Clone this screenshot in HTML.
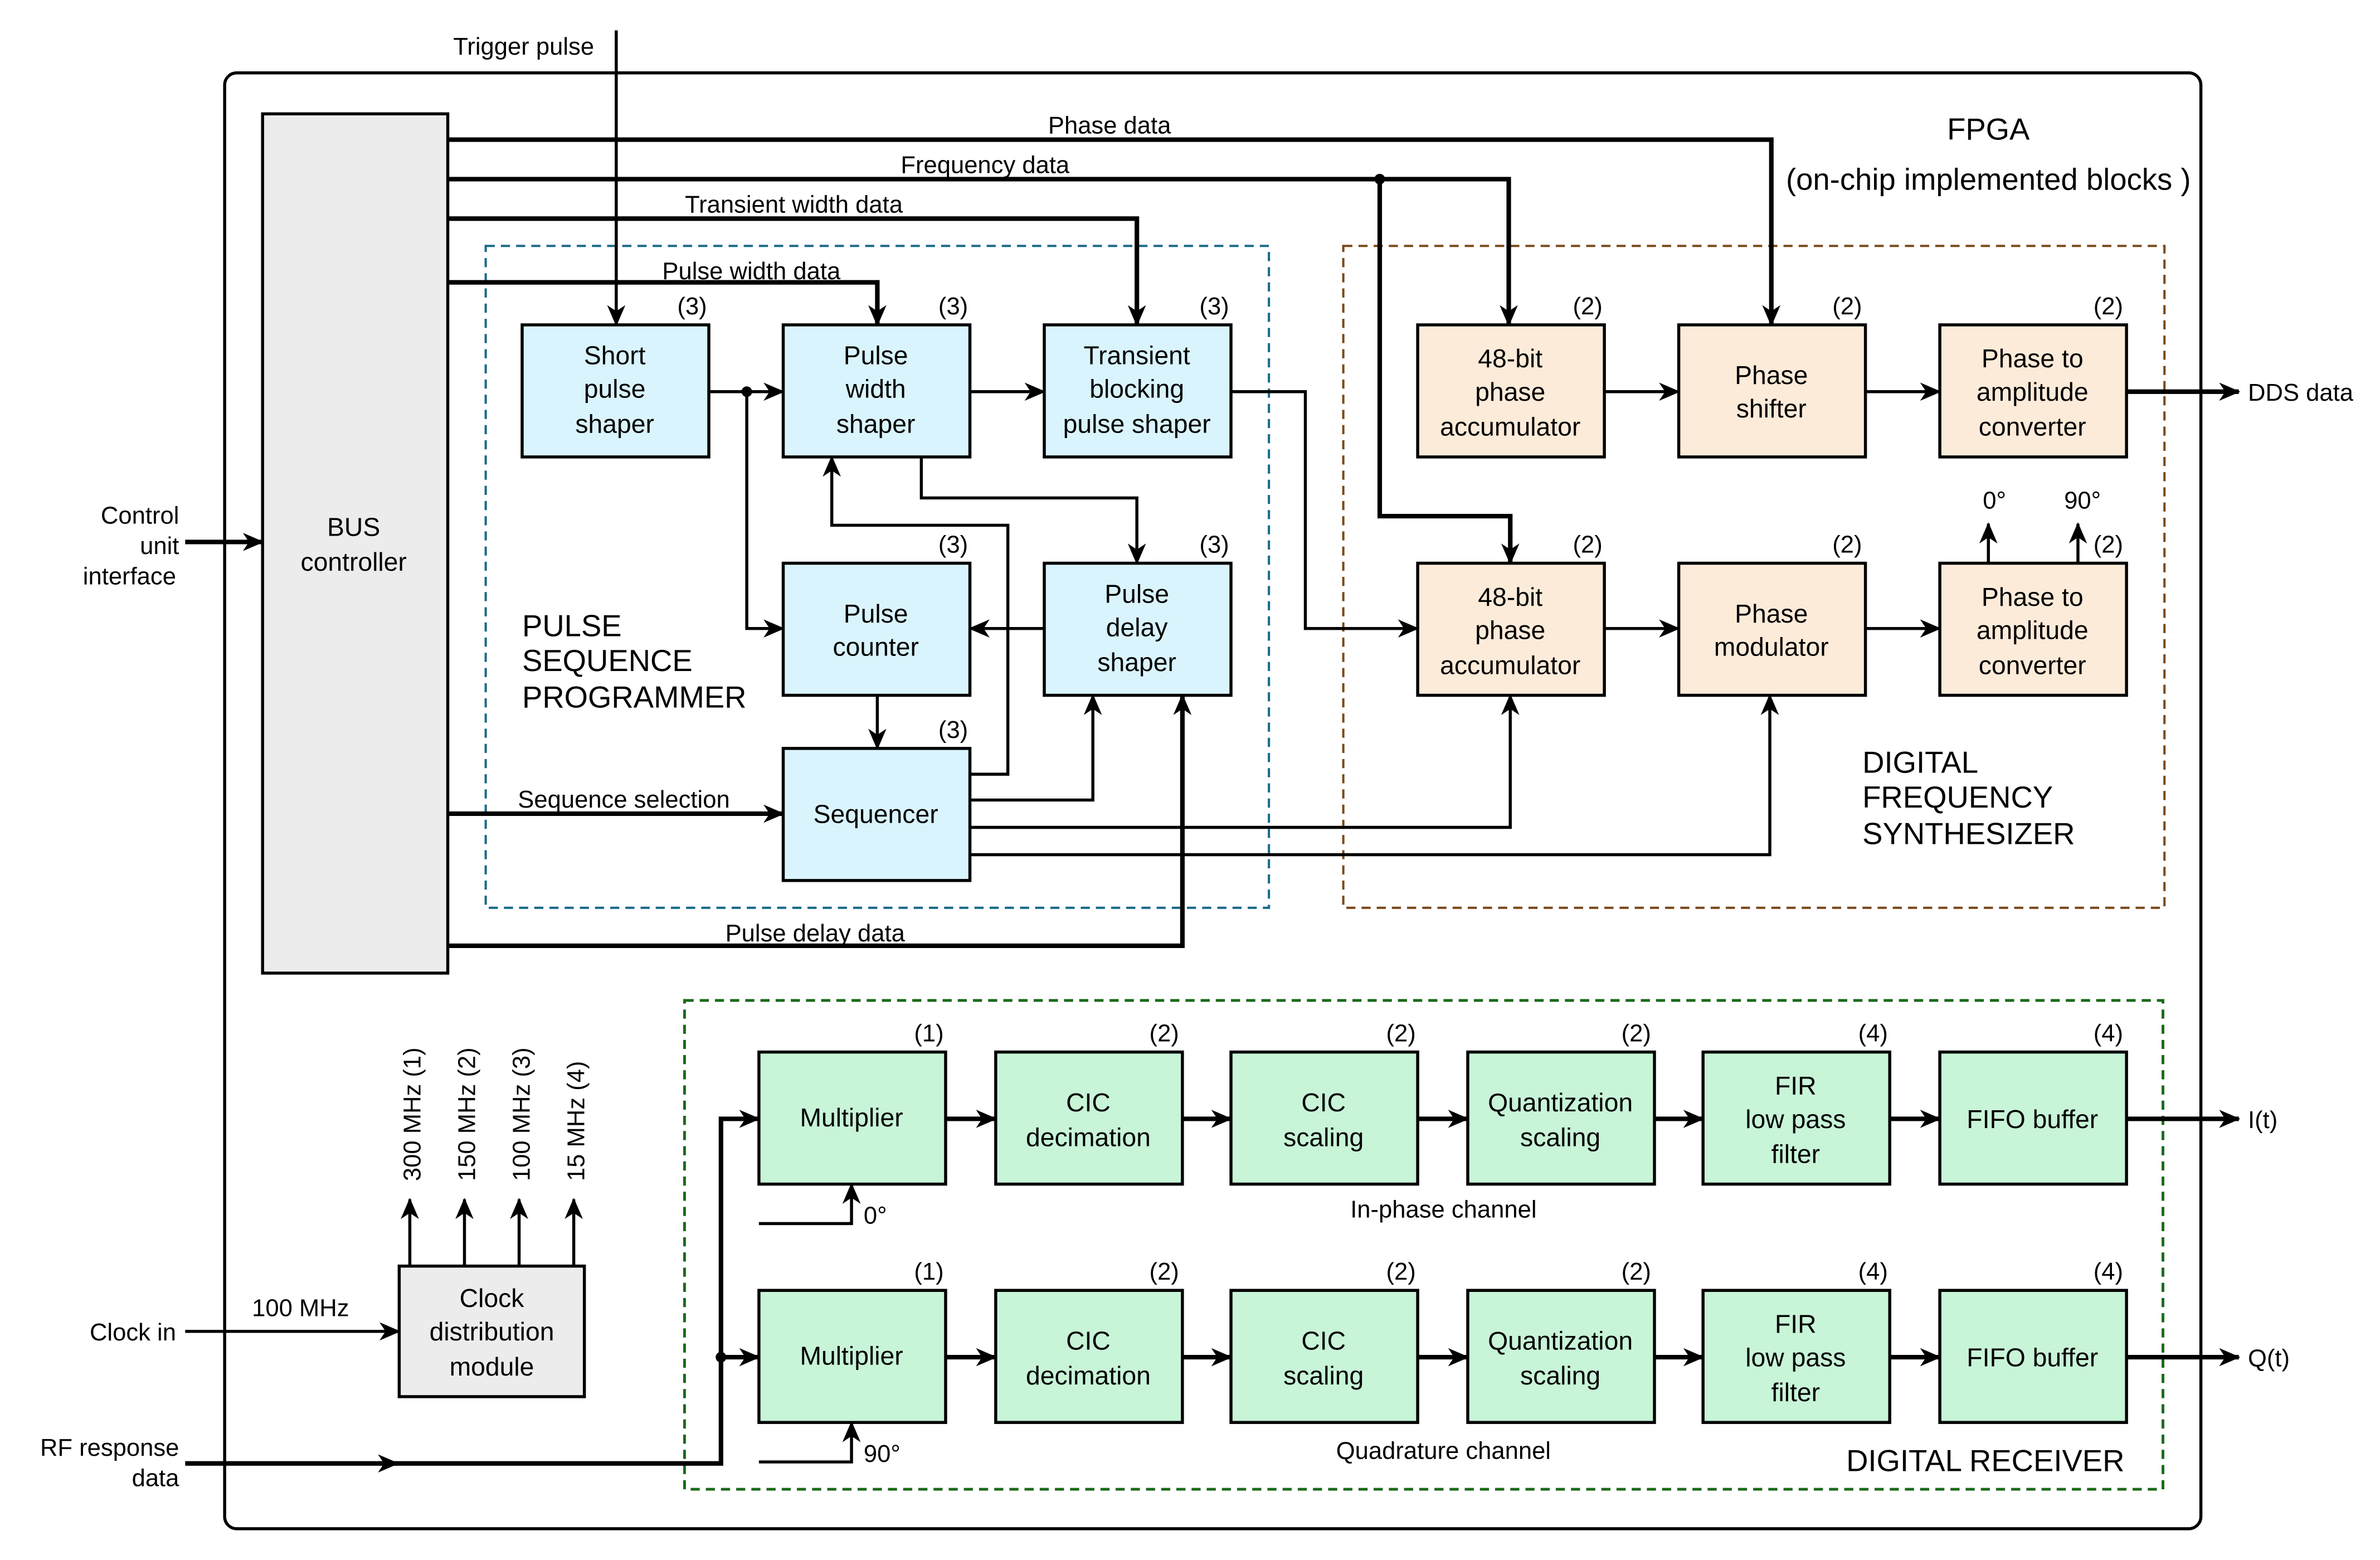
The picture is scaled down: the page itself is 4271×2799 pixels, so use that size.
<!DOCTYPE html>
<html><head><meta charset="utf-8"><style>
html,body{margin:0;padding:0;background:#fff}
svg{display:block}
text{font-family:"Liberation Sans",sans-serif;fill:#000}
</style></head><body>
<svg width="4271" height="2799" viewBox="0 0 1568 1027.6" preserveAspectRatio="none" xmlns="http://www.w3.org/2000/svg">
<defs>
<marker id="a" markerUnits="userSpaceOnUse" markerWidth="14" markerHeight="12" refX="13" refY="6" orient="auto"><path d="M0,0 L14,6 L0,12 L4,6 Z" fill="#000"/></marker>
</defs>
<rect width="1568" height="1028" fill="#fff"/>
<rect x="148" y="48" width="1302" height="959" rx="8" fill="none" stroke="#000" stroke-width="2"/>
<rect x="320" y="162" width="516" height="436" fill="none" stroke="#1a6a8a" stroke-width="1.5" stroke-dasharray="6,4"/>
<rect x="885" y="162" width="541" height="436" fill="none" stroke="#7a4a1a" stroke-width="1.5" stroke-dasharray="6,4"/>
<rect x="451" y="659" width="974" height="322" fill="none" stroke="#1a6a1a" stroke-width="1.8" stroke-dasharray="6,4"/>

<g stroke="#000" stroke-width="2">
<rect x="173" y="75" width="122" height="566" fill="#ececec"/>
<rect x="263" y="834" width="122" height="86" fill="#ececec"/>
<g fill="#d9f4fd">
<rect x="344" y="214" width="123" height="87"/><rect x="516" y="214" width="123" height="87"/><rect x="688" y="214" width="123" height="87"/>
<rect x="516" y="371" width="123" height="87"/><rect x="688" y="371" width="123" height="87"/><rect x="516" y="493" width="123" height="87"/>
</g>
<g fill="#fdebd9">
<rect x="934" y="214" width="123" height="87"/><rect x="1106" y="214" width="123" height="87"/><rect x="1278" y="214" width="123" height="87"/>
<rect x="934" y="371" width="123" height="87"/><rect x="1106" y="371" width="123" height="87"/><rect x="1278" y="371" width="123" height="87"/>
</g>
<g fill="#c8f4d8">
<rect x="500" y="693" width="123" height="87"/><rect x="656" y="693" width="123" height="87"/><rect x="811" y="693" width="123" height="87"/><rect x="967" y="693" width="123" height="87"/><rect x="1122" y="693" width="123" height="87"/><rect x="1278" y="693" width="123" height="87"/>
<rect x="500" y="850" width="123" height="87"/><rect x="656" y="850" width="123" height="87"/><rect x="811" y="850" width="123" height="87"/><rect x="967" y="850" width="123" height="87"/><rect x="1122" y="850" width="123" height="87"/><rect x="1278" y="850" width="123" height="87"/>
</g>
</g>

<g fill="none" stroke="#000" stroke-width="3" marker-end="url(#a)">
<path d="M295,92 H1167 V214"/>
<path d="M295,118 H994 V214"/>
<path d="M909,118 V340 H995 V371"/>
<path d="M295,144 H749 V214"/>
<path d="M295,186 H578 V214"/>
<path d="M295,623 H779 V458"/>
<path d="M295,536 H516"/>
<path d="M122,357 H173"/>
<path d="M1401,258 H1475"/>
<path d="M122,964 H262"/>
<path d="M475,894 H500"/>
<path d="M623,737 H656"/><path d="M779,737 H811"/><path d="M934,737 H967"/><path d="M1090,737 H1122"/><path d="M1245,737 H1278"/><path d="M1401,737 H1475"/>
<path d="M623,894 H656"/><path d="M779,894 H811"/><path d="M934,894 H967"/><path d="M1090,894 H1122"/><path d="M1245,894 H1278"/><path d="M1401,894 H1475"/>
</g>
<path d="M250,964 H475 V737 H500" fill="none" stroke="#000" stroke-width="3" marker-end="url(#a)"/>
<g fill="none" stroke="#000" stroke-width="2" marker-end="url(#a)">
<path d="M406,20 V214"/>
<path d="M467,258 H516"/>
<path d="M492,258 V414 H516"/>
<path d="M639,258 H688"/>
<path d="M607,301 V328 H749 V371"/>
<path d="M639,510 H664 V346 H548 V301"/>
<path d="M688,414 H639"/>
<path d="M578,458 V493"/>
<path d="M639,527 H720 V458"/>
<path d="M639,545 H995 V458"/>
<path d="M639,563 H1166 V458"/>
<path d="M811,258 H860 V414 H934"/>
<path d="M1057,258 H1106"/><path d="M1229,258 H1278"/>
<path d="M1057,414 H1106"/><path d="M1229,414 H1278"/>
<path d="M1310,371 V345"/><path d="M1369,371 V345"/>
<path d="M122,877 H263"/>
<path d="M270,834 V790"/><path d="M306,834 V790"/><path d="M342,834 V790"/><path d="M378,834 V790"/>
<path d="M500,806 H561 V780"/>
<path d="M500,963 H561 V937"/>
</g>
<circle cx="492" cy="258" r="3.5"/><circle cx="909" cy="118" r="3.5"/><circle cx="475" cy="894" r="3.5"/>

<g font-size="17" text-anchor="middle">
<text x="233" y="353">BUS</text><text x="233" y="376">controller</text>
<text x="405" y="240">Short</text><text x="405" y="262">pulse</text><text x="405" y="285">shaper</text>
<text x="577" y="240">Pulse</text><text x="577" y="262">width</text><text x="577" y="285">shaper</text>
<text x="749" y="240">Transient</text><text x="749" y="262">blocking</text><text x="749" y="285">pulse shaper</text>
<text x="577" y="410">Pulse</text><text x="577" y="432">counter</text>
<text x="749" y="397">Pulse</text><text x="749" y="419">delay</text><text x="749" y="442">shaper</text>
<text x="577" y="542">Sequencer</text>
<text x="995" y="242">48-bit</text><text x="995" y="264">phase</text><text x="995" y="287">accumulator</text>
<text x="1167" y="253">Phase</text><text x="1167" y="275">shifter</text>
<text x="1339" y="242">Phase to</text><text x="1339" y="264">amplitude</text><text x="1339" y="287">converter</text>
<text x="995" y="399">48-bit</text><text x="995" y="421">phase</text><text x="995" y="444">accumulator</text>
<text x="1167" y="410">Phase</text><text x="1167" y="432">modulator</text>
<text x="1339" y="399">Phase to</text><text x="1339" y="421">amplitude</text><text x="1339" y="444">converter</text>
<text x="324" y="861">Clock</text><text x="324" y="883">distribution</text><text x="324" y="906">module</text>
<text x="561" y="742">Multiplier</text><text x="717" y="732">CIC</text><text x="717" y="755">decimation</text><text x="872" y="732">CIC</text><text x="872" y="755">scaling</text><text x="1028" y="732">Quantization</text><text x="1028" y="755">scaling</text><text x="1183" y="721">FIR</text><text x="1183" y="743">low pass</text><text x="1183" y="766">filter</text><text x="1339" y="743">FIFO buffer</text>
<text x="561" y="899">Multiplier</text><text x="717" y="889">CIC</text><text x="717" y="912">decimation</text><text x="872" y="889">CIC</text><text x="872" y="912">scaling</text><text x="1028" y="889">Quantization</text><text x="1028" y="912">scaling</text><text x="1183" y="878">FIR</text><text x="1183" y="900">low pass</text><text x="1183" y="923">filter</text><text x="1339" y="900">FIFO buffer</text>
</g>
<g font-size="16" text-anchor="middle">
<text x="456" y="207">(3)</text><text x="628" y="207">(3)</text><text x="800" y="207">(3)</text><text x="628" y="364">(3)</text><text x="800" y="364">(3)</text><text x="628" y="486">(3)</text>
<text x="1046" y="207">(2)</text><text x="1217" y="207">(2)</text><text x="1389" y="207">(2)</text><text x="1046" y="364">(2)</text><text x="1217" y="364">(2)</text><text x="1389" y="364">(2)</text>
<text x="612" y="686">(1)</text><text x="767" y="686">(2)</text><text x="923" y="686">(2)</text><text x="1078" y="686">(2)</text><text x="1234" y="686">(4)</text><text x="1389" y="686">(4)</text>
<text x="612" y="843">(1)</text><text x="767" y="843">(2)</text><text x="923" y="843">(2)</text><text x="1078" y="843">(2)</text><text x="1234" y="843">(4)</text><text x="1389" y="843">(4)</text>
<text x="345" y="36">Trigger pulse</text>
<text x="731" y="88">Phase data</text><text x="649" y="114">Frequency data</text><text x="523" y="140">Transient width data</text><text x="495" y="184">Pulse width data</text>
<text x="411" y="532">Sequence selection</text><text x="537" y="620">Pulse delay data</text>
<text x="1314" y="335">0°</text><text x="1372" y="335">90°</text>
<text x="198" y="867">100 MHz</text>
<text x="951" y="802">In-phase channel</text><text x="951" y="961">Quadrature channel</text>
</g>
<g font-size="16">
<text x="1481" y="264">DDS data</text><text x="1481" y="743">I(t)</text><text x="1481" y="900">Q(t)</text>
<text x="569" y="806">0°</text><text x="569" y="963">90°</text>
<g text-anchor="end"><text x="118" y="345">Control</text><text x="118" y="365">unit</text><text x="116" y="385">interface</text>
<text x="116" y="883">Clock in</text><text x="118" y="959">RF response</text><text x="118" y="979">data</text></g>
<g><text transform="translate(277,778) rotate(-90)">300 MHz (1)</text><text transform="translate(313,778) rotate(-90)">150 MHz (2)</text><text transform="translate(349,778) rotate(-90)">100 MHz (3)</text><text transform="translate(385,778) rotate(-90)">15 MHz (4)</text></g>
</g>
<g font-size="20">
<text x="344" y="419">PULSE</text><text x="344" y="442">SEQUENCE</text><text x="344" y="466">PROGRAMMER</text>
<text x="1227" y="509">DIGITAL</text><text x="1227" y="532">FREQUENCY</text><text x="1227" y="556">SYNTHESIZER</text>
<text x="1310" y="92" text-anchor="middle">FPGA</text><text x="1310" y="125" text-anchor="middle">(on-chip implemented blocks )</text>
<text x="1308" y="969" text-anchor="middle">DIGITAL RECEIVER</text>
</g>
</svg>
</body></html>
